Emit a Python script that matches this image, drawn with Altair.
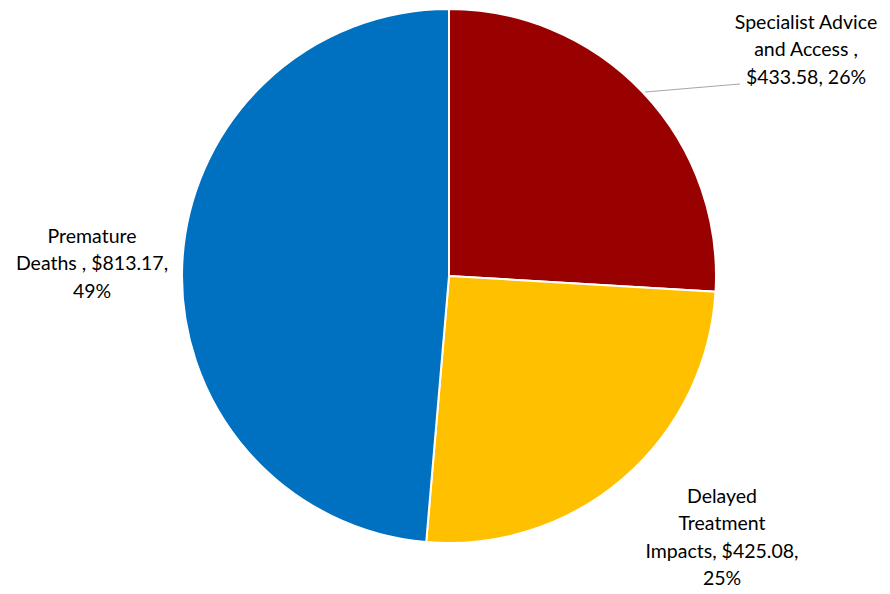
import altair as alt
import pandas as pd

categories = ["Specialist Advice and Access", "Delayed Treatment Impacts", "Premature Deaths"]
values = [433.58, 425.08, 813.17]
percents = [26, 25, 49]
colors = ["#990000", "#FFC000", "#0070C0"]
label_lines = [
    ["Specialist Advice", "and Access ,", "$433.58, 26%"],
    ["Delayed", "Treatment", "Impacts, $425.08,", "25%"],
    ["Premature", "Deaths , $813.17,", "49%"],
]

df = pd.DataFrame({"category": categories, "value": values, "order": [0, 1, 2]})

W, H = 874, 578
CX, CY, R = 441, 268, 267
FONT = "Lato"

base = alt.Chart(df)
pie = base.mark_arc(outerRadius=R, stroke="white", strokeWidth=2).encode(
    theta=alt.Theta("value:Q", stack=True),
    order=alt.Order("order:Q"),
    color=alt.Color("category:N", scale=alt.Scale(domain=categories, range=colors), legend=None),
    x=alt.value(CX), y=alt.value(CY),
)

leader = alt.Chart(pd.DataFrame({"a": [0]})).mark_rule(color="#A6A6A6", strokeWidth=1).encode(
    x=alt.value(637), y=alt.value(84), x2=alt.value(732), y2=alt.value(76)
)

label_pos = [(798, 6), (714, 480), (84, 220)]
layers = [pie, leader]
for i, (lx, ly) in enumerate(label_pos):
    tdf = pd.DataFrame({"t": ["|".join(label_lines[i])]})
    layers.append(
        alt.Chart(tdf).mark_text(
            font=FONT, fontSize=19.5, align="center", baseline="top", lineHeight=27.3,
            lineBreak="|", color="#000000"
        ).encode(text="t:N", x=alt.value(lx), y=alt.value(ly))
    )

chart = alt.layer(*layers).properties(
    width=W, height=H, autosize=alt.AutoSizeParams(type="none"), padding=0
).configure_view(stroke=None)

chart.save("out.html", embed_options={"renderer": "svg", "actions": False})
